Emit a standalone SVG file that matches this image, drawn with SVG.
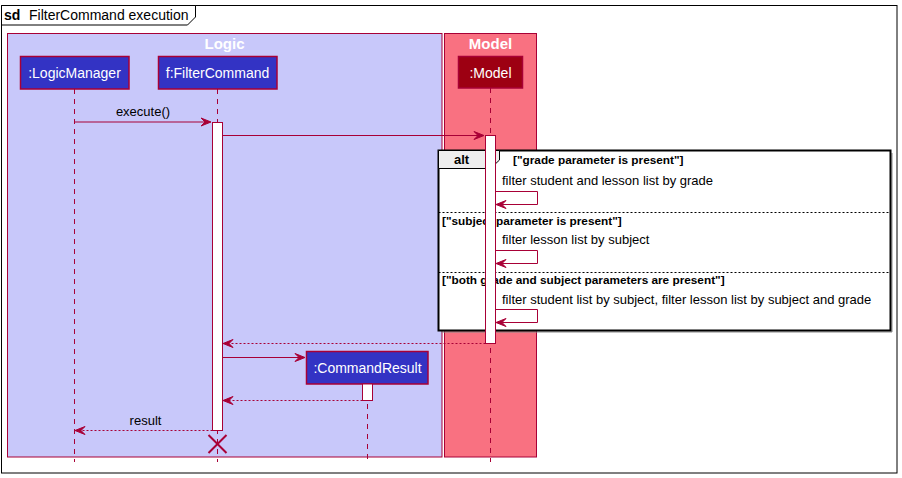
<svg xmlns="http://www.w3.org/2000/svg" width="902" height="478" viewBox="0 0 902 478">
<defs>
<style>
text{font-family:"Liberation Sans",Arial,sans-serif;}
.t13{font-size:13px;fill:#000;}
.pt{font-size:14px;fill:#fff;text-anchor:middle;}
.bt{font-size:15px;font-weight:bold;fill:#fff;text-anchor:middle;}
.gd{font-size:11.8px;font-weight:bold;fill:#000;}
.life{stroke:#A80036;stroke-width:1;stroke-dasharray:5,5;fill:none;}
.msg{stroke:#A80036;stroke-width:1;fill:none;}
.ret{stroke:#A80036;stroke-width:1;fill:none;stroke-dasharray:2,2;}
.act{fill:#fff;stroke:#A80036;stroke-width:1;}
.ah{fill:#A80036;stroke:#A80036;stroke-width:1;}
.lp{fill:#3333C4;stroke:#A80036;stroke-width:1.5;}
.mp{fill:#9D0012;stroke:#A80036;stroke-width:1.5;}
.div{stroke:#000;stroke-width:1;stroke-dasharray:2,2;}
</style>
</defs>
<rect width="902" height="478" fill="#fff"/>
<!-- outer frame -->
<g id="frame">
<rect x="1.5" y="5.5" width="895.5" height="467.5" fill="none" stroke="#000" stroke-width="1"/>
<polygon points="1.5,5.5 195.5,5.5 195.5,17 187.5,25 1.5,25" fill="#fff" stroke="#000" stroke-width="1"/>
<text x="4" y="20" font-size="14" font-weight="bold">sd</text>
<text x="29" y="20" font-size="14">FilterCommand execution</text>
</g>
<!-- boxes -->
<g id="box-logic">
<rect x="7.5" y="33.5" width="434.5" height="423.5" fill="#C8C8FA" stroke="#A80036" stroke-width="1"/>
<text x="224.5" y="49" class="bt">Logic</text>
</g>
<g id="box-model">
<rect x="444.5" y="33.5" width="92" height="423.5" fill="#F97181" stroke="#A80036" stroke-width="1"/>
<text x="490.5" y="49" class="bt">Model</text>
</g>
<!-- lifelines -->
<g id="lifelines">
<line x1="74.5" y1="89" x2="74.5" y2="462" class="life"/>
<line x1="217.5" y1="89" x2="217.5" y2="462" class="life"/>
<line x1="490.5" y1="88" x2="490.5" y2="462" class="life"/>
<line x1="367.5" y1="384" x2="367.5" y2="462" class="life"/>
</g>
<!-- participants -->
<g id="LogicManager">
<rect x="20.5" y="56.5" width="108.5" height="32.5" class="lp"/>
<text x="74.5" y="78" class="pt">:LogicManager</text>
</g>
<g id="FilterCommand">
<rect x="158.5" y="56.5" width="118.5" height="32.5" class="lp"/>
<text x="217.5" y="78" class="pt">f:FilterCommand</text>
</g>
<g id="Model">
<rect x="458.5" y="56.5" width="64" height="31.5" class="mp"/>
<text x="490.5" y="78" class="pt">:Model</text>
</g>
<g id="CommandResult">
<rect x="306.5" y="351.5" width="121.5" height="32.5" class="lp"/>
<text x="367.5" y="373" class="pt">:CommandResult</text>
</g>
<!-- alt fragment -->
<g id="alt">
<polyline points="892,153 892,332 441,332" fill="none" stroke="#888" stroke-width="1"/>
<rect x="438.5" y="150.5" width="452" height="180" fill="#fff" stroke="#000" stroke-width="2"/>
<polygon points="438.5,150.5 499.5,150.5 499.5,160 490.5,168.5 438.5,168.5" fill="#EEEEEE" stroke="#000" stroke-width="1"/>
<text x="454" y="164" class="t13" font-weight="bold">alt</text>
<text x="513" y="164" class="gd">["grade parameter is present"]</text>
<line x1="438.5" y1="212.5" x2="890.5" y2="212.5" class="div"/>
<text x="442" y="225" class="gd">["subject parameter is present"]</text>
<line x1="438.5" y1="272.5" x2="890.5" y2="272.5" class="div"/>
<text x="442" y="284" class="gd">["both grade and subject parameters are present"]</text>
</g>
<!-- activations -->
<g id="activations">
<rect x="212.5" y="122.5" width="10" height="308" class="act"/>
<rect x="485.5" y="135.5" width="10" height="208" class="act"/>
<rect x="362.5" y="384" width="10" height="16.5" class="act"/>
</g>
<!-- connectors -->
<g id="connectors">
<line x1="74.5" y1="122" x2="210" y2="122" class="msg"/>
<polygon points="201,118 211,122 201,126 205,122" class="ah"/>
<text x="143" y="116" class="t13" text-anchor="middle">execute()</text>

<line x1="222.5" y1="135.5" x2="483" y2="135.5" class="msg"/>
<polygon points="474,131.5 484,135.5 474,139.5 478,135.5" class="ah"/>

<polyline points="495.5,191.5 537.5,191.5 537.5,204.5 497,204.5" class="msg"/>
<polygon points="506,200.5 496,204.5 506,208.5 502,204.5" class="ah"/>
<text x="502" y="185" class="t13">filter student and lesson list by grade</text>

<polyline points="495.5,250.5 537.5,250.5 537.5,263.5 497,263.5" class="msg"/>
<polygon points="506,259.5 496,263.5 506,267.5 502,263.5" class="ah"/>
<text x="502" y="244" class="t13">filter lesson list by subject</text>

<polyline points="495.5,309.5 537.5,309.5 537.5,322.5 497,322.5" class="msg"/>
<polygon points="506,318.5 496,322.5 506,326.5 502,322.5" class="ah"/>
<text x="502" y="304" class="t13">filter student list by subject, filter lesson list by subject and grade</text>

<line x1="485.5" y1="343.5" x2="224" y2="343.5" class="ret"/>
<polygon points="233,339.5 223,343.5 233,347.5 229,343.5" class="ah"/>

<line x1="222.5" y1="357.5" x2="304" y2="357.5" class="msg"/>
<polygon points="295,353.5 305,357.5 295,361.5 299,357.5" class="ah"/>

<line x1="362.5" y1="400.5" x2="224" y2="400.5" class="ret"/>
<polygon points="233,396.5 223,400.5 233,404.5 229,400.5" class="ah"/>

<line x1="212.5" y1="430.5" x2="76" y2="430.5" class="ret"/>
<polygon points="85,426.5 75,430.5 85,434.5 81,430.5" class="ah"/>
<text x="145.5" y="425" class="t13" text-anchor="middle">result</text>

<line x1="208.5" y1="435" x2="226.5" y2="453" stroke="#A80036" stroke-width="2"/>
<line x1="226.5" y1="435" x2="208.5" y2="453" stroke="#A80036" stroke-width="2"/>
</g>
</svg>
